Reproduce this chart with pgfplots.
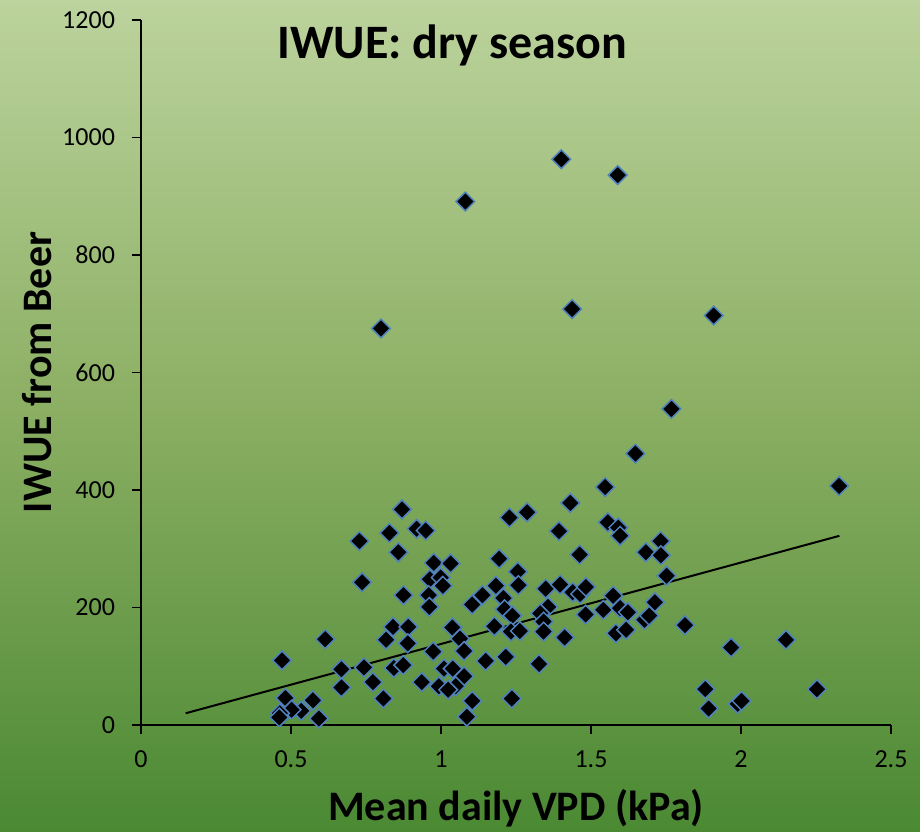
\documentclass[border=0pt]{standalone}
\usepackage{pgfplots}
\pgfplotsset{compat=1.18}
\usepackage{fontspec}
\setmainfont{Carlito}
\definecolor{bgtop}{RGB}{188,211,157}
\definecolor{bgmid}{RGB}{138,174,98}
\definecolor{bgbot}{RGB}{75,137,51}
\definecolor{mkedge}{RGB}{79,129,189}
\begin{document}
\begin{tikzpicture}
\shade[top color=bgtop, bottom color=bgbot, middle color=bgmid] (-70.5pt,-53pt) rectangle (389.5pt,362.5pt);
\begin{axis}[
 scale only axis, width=375pt, height=352.5pt,
 xmin=0, xmax=2.5, ymin=0, ymax=1200,
 axis x line=bottom, axis y line=left,
 axis line style={-, line width=0.75pt, black},
 xtick={0,0.5,1,1.5,2,2.5}, ytick={0,200,400,600,800,1000,1200},
 tick align=outside, major tick length=4.5pt,
 tick style={black, line width=0.75pt},
 ticklabel style={font=\fontsize{13}{15}\selectfont},
 xticklabel style={yshift=-5pt},
 yticklabel style={xshift=-5pt},
 /pgf/number format/assume math mode=true,
 /pgf/number format/1000 sep={},
 xlabel={Mean daily VPD (kPa)}, ylabel={IWUE from Beer},
 every axis x label/.style={at={(axis description cs:0.5,-0.1177)}, anchor=center, font=\fontsize{21}{24}\selectfont\bfseries},
 every axis y label/.style={at={(axis description cs:-0.1387,0.5)}, anchor=center, rotate=90, font=\fontsize{21}{24}\selectfont\bfseries},
 clip=false,
]
\addplot[black, line width=1pt] coordinates {(0.149,20) (2.328,322)};
\addplot[only marks, mark=square*, mark size=3.3pt,
  mark options={rotate=45, fill=black, draw=mkedge, line width=0.75pt}] table {
x y
0.728 313
0.828 327
0.858 294
0.737 243
0.870 367
0.875 221
0.840 167
0.817 145
0.614 146
0.470 110
0.668 95
0.743 98
0.843 97
0.668 64
0.773 73
0.808 45
0.481 46
0.573 42
0.534 24
0.502 26
0.463 20
0.461 13
0.593 11
1.547 405
1.431 378
1.228 353
1.287 362
0.919 334
0.949 331
1.393 330
1.556 345
1.591 336
1.597 322
1.462 290
1.683 294
1.194 283
0.976 276
1.032 275
0.963 248
0.999 251
1.006 237
1.256 261
1.258 238
1.183 237
1.208 216
1.138 221
1.104 205
1.349 232
1.397 239
1.439 226
1.464 223
1.483 235
0.959 221
0.961 201
1.212 197
1.238 186
1.357 201
1.331 190
1.342 176
1.342 159
1.482 188
1.541 196
1.574 220
1.597 199
1.623 192
1.678 179
1.583 156
1.617 162
1.412 149
0.891 167
1.038 166
0.889 139
1.063 147
1.077 126
0.974 125
1.178 168
1.233 159
1.263 160
1.149 109
1.216 116
1.327 104
0.874 102
0.936 73
0.993 66
1.010 96
1.039 96
1.077 83
1.049 66
1.024 60
1.104 41
1.236 45
1.086 14
2.327 407
1.732 313
1.733 289
1.752 254
1.713 209
1.694 186
1.813 170
1.967 132
2.150 145
1.881 61
1.892 28
1.989 36
2.002 41
2.253 61
1.401 963
1.589 936
1.081 891
0.800 675
1.437 708
1.909 697
1.768 538
1.648 462
};
\node[font=\fontsize{24}{28}\selectfont\bfseries, anchor=center] at (axis cs:1.037,1157) {IWUE: dry season};
\end{axis}
\end{tikzpicture}
\end{document}
